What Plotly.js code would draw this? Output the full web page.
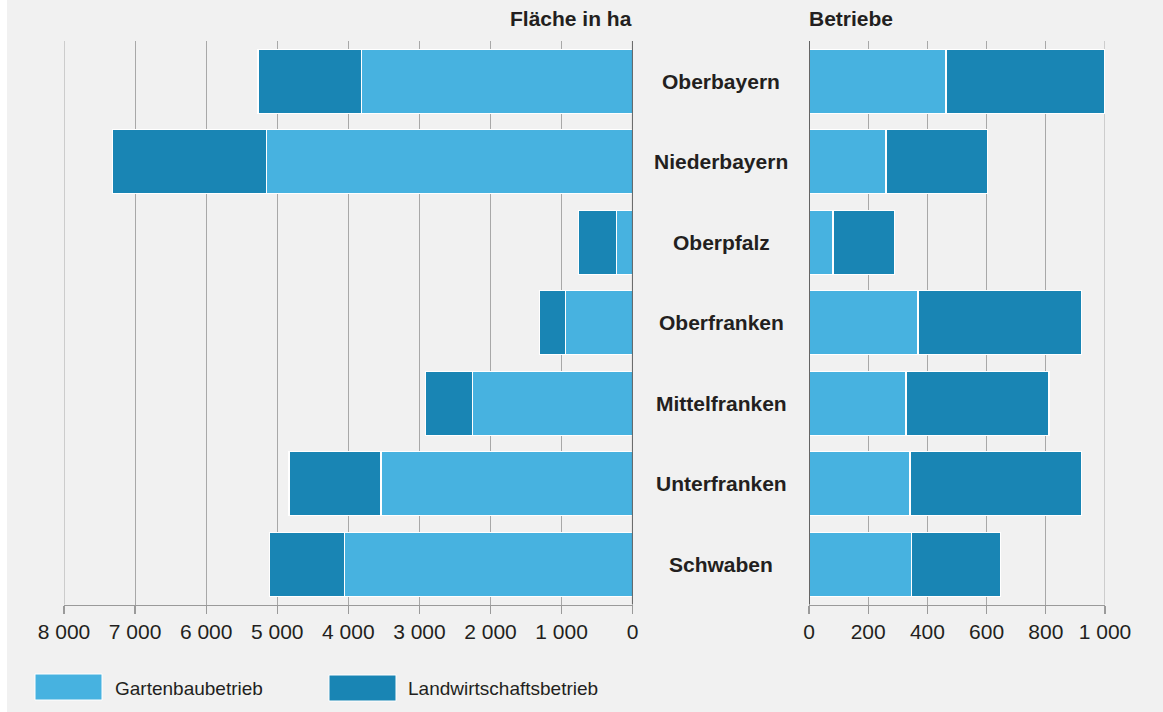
<!DOCTYPE html>
<html>
<head>
<meta charset="utf-8">
<script src="https://cdn.plot.ly/plotly-3.0.1.min.js"></script>
<style>
html,body{margin:0;padding:0;background:#ffffff;}
#chart{width:1163px;height:712px;}
</style>
</head>
<body>
<div id="chart"></div>
<script>
// Data
const regions = ["Oberbayern","Niederbayern","Oberpfalz","Oberfranken","Mittelfranken","Unterfranken","Schwaben"];
const flaecheGarten = [3820, 5150, 230, 950, 2250, 3540, 4050];
const flaecheLand   = [1450, 2170, 530, 365, 670, 1295, 1060];
const betriebeGarten = [463, 260, 81, 368, 328, 341, 345];
const betriebeLand   = [534, 344, 209, 553, 483, 580, 303];
const seriesNames = ["Gartenbaubetrieb","Landwirtschaftsbetrieb"];
const leftTicks = [8000,7000,6000,5000,4000,3000,2000,1000,0];
const leftTickText = ["8 000","7 000","6 000","5 000","4 000","3 000","2 000","1 000","0"];
const rightTicks = [0,200,400,600,800,1000];
const rightTickText = ["0","200","400","600","800","1 000"];

const cLight = "#47b2e0";
const cDark = "#1985b4";
const txt = "#231f20";
const W = 1163, H = 712;
const px = v => v / W;
const py = v => 1 - v / H;

const barLine = {color: "#ffffff", width: 1.2};
const traces = [
  {type:"bar", orientation:"h", y:regions, x:flaecheGarten, name:seriesNames[0], marker:{color:cLight, line:barLine}, xaxis:"x", yaxis:"y", hoverinfo:"x+y"},
  {type:"bar", orientation:"h", y:regions, x:flaecheLand, name:seriesNames[1], marker:{color:cDark, line:barLine}, xaxis:"x", yaxis:"y", hoverinfo:"x+y"},
  {type:"bar", orientation:"h", y:regions, x:betriebeGarten, name:seriesNames[0], marker:{color:cLight, line:barLine}, xaxis:"x2", yaxis:"y2", hoverinfo:"x+y"},
  {type:"bar", orientation:"h", y:regions, x:betriebeLand, name:seriesNames[1], marker:{color:cDark, line:barLine}, xaxis:"x2", yaxis:"y2", hoverinfo:"x+y"}
];

const yDom = [py(604.5), py(41)];
const fam = "'Liberation Sans', Arial, Helvetica, sans-serif";
const gridColor = "#a8a8a8";

const axisCommon = {
  showgrid:true, gridcolor:gridColor, gridwidth:1,
  zeroline:false,
  showline:true, linecolor:"#9a9a9a", linewidth:1.5,
  ticks:"outside", ticklen:8, tickcolor:"#9a9a9a", tickwidth:1.2,
  tickfont:{family:fam, size:21, color:txt},
  tickmode:"array", fixedrange:true
};

const annotations = regions.map(r => ({
  xref:"paper", yref:"y", x:px(721), y:r, text:"<b>"+r+"</b>", showarrow:false,
  xanchor:"center", yanchor:"middle", font:{family:fam, size:21, color:txt}
}));
annotations.push({xref:"paper", yref:"paper", x:px(634), y:py(18), text:"<b>Fläche in ha</b>", showarrow:false, xanchor:"right", yanchor:"middle", font:{family:fam, size:21, color:txt}});
annotations.push({xref:"paper", yref:"paper", x:px(807), y:py(18), text:"<b>Betriebe</b>", showarrow:false, xanchor:"left", yanchor:"middle", font:{family:fam, size:21, color:txt}});
annotations.push({xref:"paper", yref:"paper", x:px(113), y:py(688), text:seriesNames[0], showarrow:false, xanchor:"left", yanchor:"middle", font:{family:fam, size:19, color:txt}});
annotations.push({xref:"paper", yref:"paper", x:px(406), y:py(688), text:seriesNames[1], showarrow:false, xanchor:"left", yanchor:"middle", font:{family:fam, size:19, color:txt}});

const shapes = [
  {type:"rect", xref:"paper", yref:"paper", x0:0, x1:px(7), y0:0, y1:1, fillcolor:"#ffffff", line:{width:0}, layer:"below"},
  // edge gridlines
  {type:"line", xref:"x", yref:"paper", x0:leftTicks[0], x1:leftTicks[0], y0:yDom[0], y1:yDom[1], line:{color:gridColor, width:1}, layer:"below"},
  {type:"line", xref:"x2", yref:"paper", x0:rightTicks[rightTicks.length-1], x1:rightTicks[rightTicks.length-1], y0:yDom[0], y1:yDom[1], line:{color:gridColor, width:1}, layer:"below"},
  // zero lines above bars
  {type:"line", xref:"x", yref:"paper", x0:0, x1:0, y0:yDom[0], y1:yDom[1], line:{color:"#333333", width:1.5}, layer:"above"},
  {type:"line", xref:"x2", yref:"paper", x0:0, x1:0, y0:yDom[0], y1:yDom[1], line:{color:"#333333", width:1.5}, layer:"above"},
  // legend swatches
  {type:"rect", xref:"paper", yref:"paper", x0:px(35), x1:px(102), y0:py(700), y1:py(674), fillcolor:cLight, line:{color:"#ffffff", width:1}},
  {type:"rect", xref:"paper", yref:"paper", x0:px(329), x1:px(396), y0:py(701), y1:py(675), fillcolor:cDark, line:{color:"#ffffff", width:1}}
];

const layout = {
  width:W, height:H,
  margin:{l:0, r:0, t:0, b:0, pad:0},
  paper_bgcolor:"#f1f1f1", plot_bgcolor:"rgba(0,0,0,0)",
  font:{family:fam, size:20, color:txt},
  barmode:"stack", bargap:0.205,
  showlegend:false,
  xaxis:Object.assign({}, axisCommon, {domain:[px(64), px(632.7)], range:[8000, 0], tickvals:leftTicks, ticktext:leftTickText, anchor:"y"}),
  xaxis2:Object.assign({}, axisCommon, {domain:[px(809), px(1105)], range:[0, 1000], tickvals:rightTicks, ticktext:rightTickText, anchor:"y2"}),
  yaxis:{domain:yDom, type:"category", categoryorder:"array", categoryarray:regions, range:[6.5, -0.5], showticklabels:false, showgrid:false, zeroline:false, showline:false, ticks:"", anchor:"x", fixedrange:true},
  yaxis2:{domain:yDom, type:"category", categoryorder:"array", categoryarray:regions, range:[6.5, -0.5], showticklabels:false, showgrid:false, zeroline:false, showline:false, ticks:"", anchor:"x2", fixedrange:true},
  annotations:annotations,
  shapes:shapes
};

Plotly.newPlot("chart", traces, layout, {displayModeBar:false, staticPlot:true});
</script>
</body>
</html>
